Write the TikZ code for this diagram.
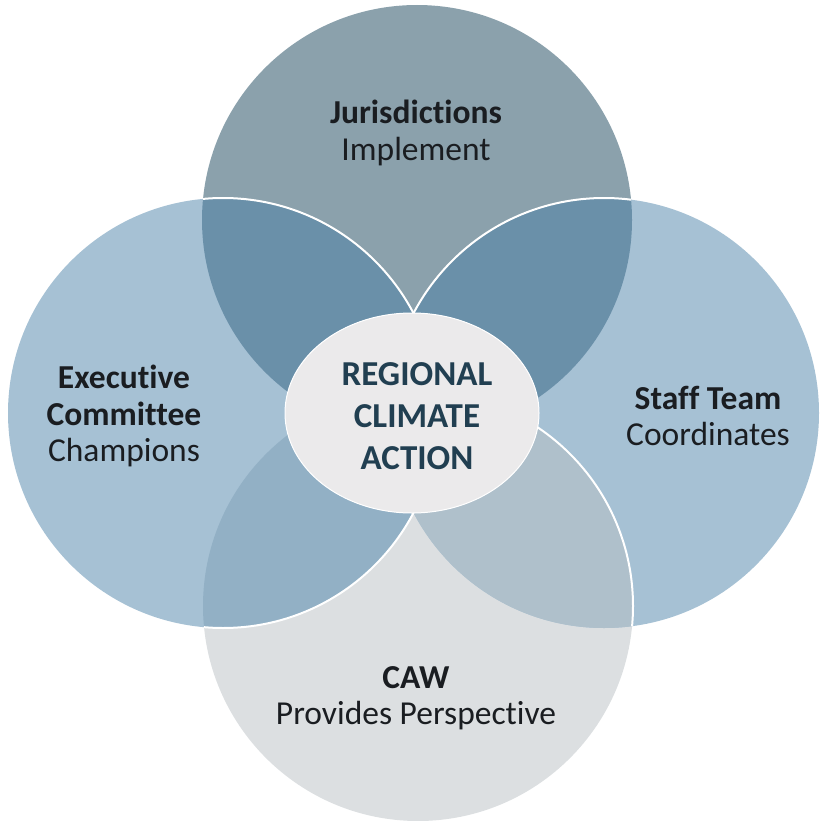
\documentclass[tikz,border=0pt]{standalone}
\usepackage{fontspec}
\setmainfont[Ligatures={NoCommon,NoRare,NoContextual}]{Carlito}
\usetikzlibrary{shapes.geometric}
\definecolor{topgrey}{HTML}{8BA1AC}
\definecolor{sideblue}{HTML}{A6C1D4}
\definecolor{bottomgrey}{HTML}{DCDFE1}
\definecolor{lensdark}{HTML}{6A90A9}
\definecolor{lensleft}{HTML}{92B0C5}
\definecolor{lensright}{HTML}{AFC0CB}
\definecolor{hubgrey}{HTML}{EBEAEB}
\definecolor{hubtext}{HTML}{213F51}
\definecolor{labeltext}{HTML}{1A1D21}
\newcommand{\ringr}{215pt}

\begin{document}
\begin{tikzpicture}[x=1pt, y=-1pt,
  every node/.style={align=center, text=labeltext},
  seam/.style={draw=white, line width=2pt},
  label/.style={font=\fontsize{33.5}{36.5}\selectfont},
  hubstyle/.style={ellipse, fill=hubgrey, draw=white, line width=1pt, inner sep=0pt,
    minimum width=254pt, minimum height=200pt}]

\useasboundingbox (0,0) rectangle (820,821);

% circle centres
\coordinate (T) at (417,220); \coordinate (B) at (418,606);
\coordinate (L) at (223,413); \coordinate (R) at (604,413);

% base circles
\fill[topgrey] (T) circle[radius=\ringr];
\fill[bottomgrey] (B) circle[radius=\ringr];
\fill[sideblue] (L) circle[radius=\ringr];
\fill[sideblue] (R) circle[radius=\ringr];

% overlaps
\begin{scope}
  \clip (T) circle[radius=\ringr];
  \fill[lensdark] (L) circle[radius=\ringr];
  \fill[lensdark] (R) circle[radius=\ringr];
  \draw[seam] (L) circle[radius=\ringr];
  \draw[seam] (R) circle[radius=\ringr];
\end{scope}
\begin{scope}
  \clip (B) circle[radius=\ringr];
  \fill[lensleft] (L) circle[radius=\ringr];
  \fill[lensright] (R) circle[radius=\ringr];
  \draw[seam] (L) circle[radius=\ringr];
\end{scope}
\begin{scope}
  \clip (R) circle[radius=\ringr];
  \draw[seam] (B) circle[radius=\ringr];
\end{scope}

% centre
\node[hubstyle] (hub) at (412,413) {};
\node[text=hubtext, font=\fontsize{35}{42}\selectfont\bfseries] (hubtxt) at (417,416) {REGIONAL\\CLIMATE\\ACTION};

% labels
\node[label] (juris) at (416,133) {\textbf{Jurisdictions}\\Implement};
\node[label] (exec) at (124,416) {\textbf{Executive}\\\textbf{Committee}\\Champions};
\node[label] (staff) at (708,416) {\textbf{Staff Team}\\Coordinates};
\node[label] (caw) at (416,698) {\textbf{CAW}\\Provides Perspective};

\end{tikzpicture}
\end{document}
